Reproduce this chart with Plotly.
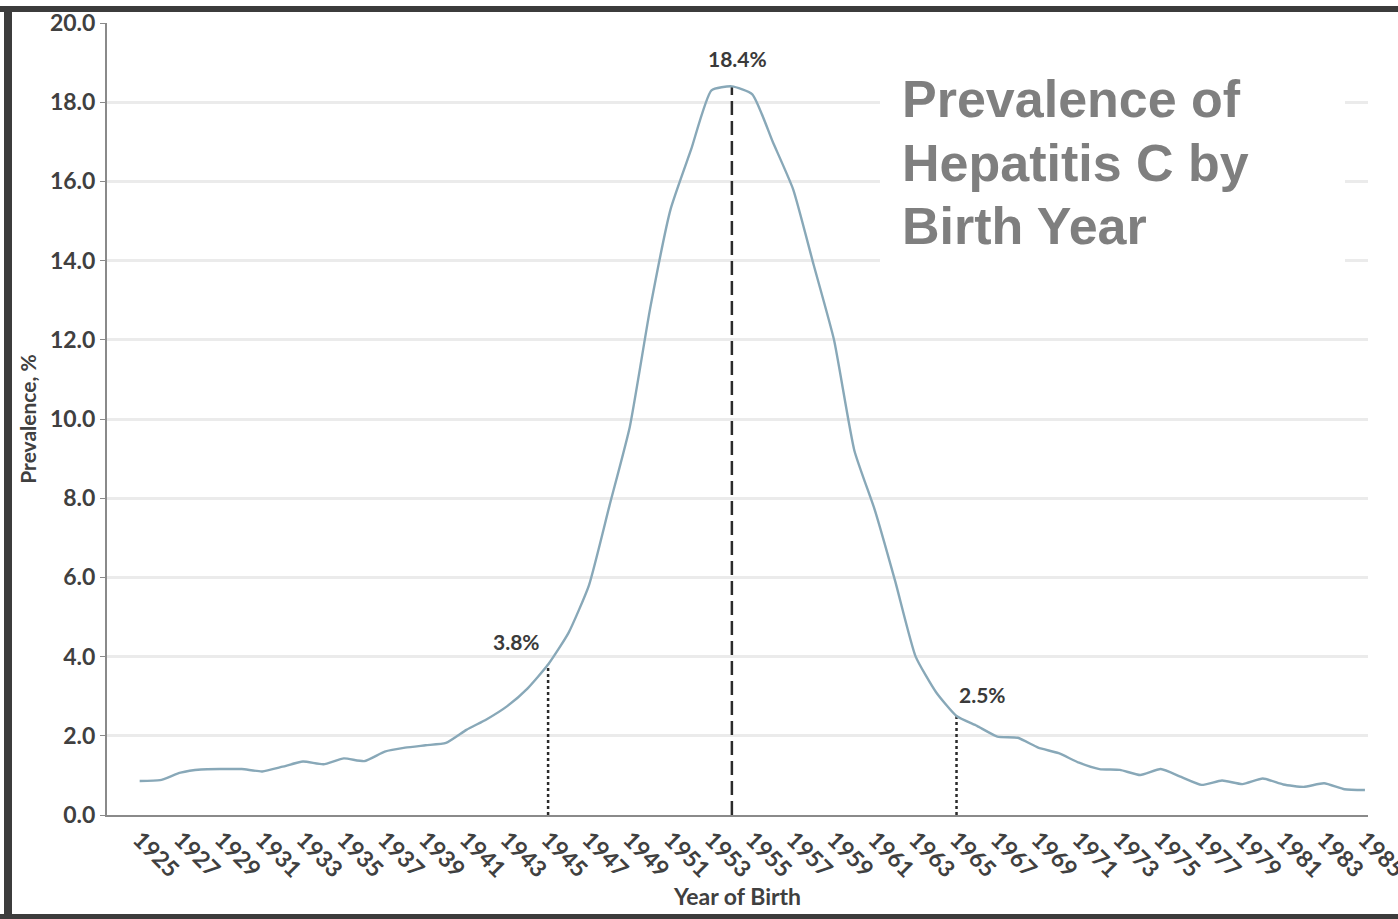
import plotly.graph_objects as go

years = list(range(1925, 1986))
prevalence = [
    0.86, 0.88, 1.07, 1.15, 1.16, 1.16, 1.10, 1.22, 1.35, 1.28,
    1.43, 1.36, 1.60, 1.70, 1.76, 1.82, 2.15, 2.42, 2.75, 3.20,
    3.80, 4.60, 5.80, 7.80, 9.80, 12.80, 15.30, 16.80, 18.30, 18.40,
    18.20, 17.00, 15.80, 13.90, 12.00, 9.20, 7.70, 5.90, 4.00, 3.10,
    2.50, 2.25, 1.98, 1.95, 1.70, 1.56, 1.32, 1.16, 1.14, 1.01,
    1.16, 0.96, 0.76, 0.87, 0.78, 0.92, 0.77, 0.71, 0.80, 0.65,
    0.63,
]
tick_years = list(range(1925, 1986, 2))
y_ticks = [0, 2, 4, 6, 8, 10, 12, 14, 16, 18, 20]
marker_years = [1945, 1954, 1965]
marker_values = [3.8, 18.4, 2.5]
marker_labels = ["3.8%", "18.4%", "2.5%"]
marker_dash = ["dot", "dash", "dot"]
title_lines = ["Prevalence of", "Hepatitis C by", "Birth Year"]

# plot area in pixels
L, R_, T, B = 107, 1368, 23, 815
W, H = 1398, 919
def px_x(px):
    return (px - L) / (R_ - L)
def px_y(py):
    return (B - py) / (B - T)

fig = go.Figure()

for yr, val, dsh in zip(marker_years, marker_values, marker_dash):
    fig.add_trace(go.Scatter(
        x=[yr, yr], y=[0, val], mode="lines",
        line=dict(color="#2b2b2b", width=2.5, dash="dot" if dsh == "dot" else "14px,6px"),
        hoverinfo="skip", showlegend=False,
    ))

fig.add_trace(go.Scatter(
    x=years, y=prevalence, mode="lines",
    line=dict(color="#88a8b8", width=2.4, shape="spline", smoothing=0.5),
    showlegend=False,
))

label_font = dict(family="Lato, Open Sans", size=21, color="#3a3a3a", weight="bold")
offsets = {1945: (-32, 23), 1954: (6, 28), 1965: (26, 22)}
for yr, val, lab in zip(marker_years, marker_values, marker_labels):
    ox, oy = offsets[yr]
    fig.add_annotation(x=yr, y=val, text=lab, showarrow=False,
                       xshift=ox, yshift=oy, font=label_font)

# white title box
fig.add_shape(type="rect", xref="paper", yref="paper",
              x0=px_x(880), x1=px_x(1345), y0=px_y(268), y1=px_y(66),
              fillcolor="white", line=dict(width=0), layer="above")
for line_txt, cy in zip(title_lines, [99, 163, 226]):
    fig.add_annotation(xref="paper", yref="paper", x=px_x(900), y=px_y(cy),
                       xanchor="left", yanchor="middle", align="left",
                       text="<b>" + line_txt + "</b>", showarrow=False,
                       font=dict(family="Liberation Sans, Arial", size=52, color="#7f7f7f"))

# image frame
frame_col = "#3c3c3c"
fig.add_shape(type="rect", xref="paper", yref="paper",
              x0=px_x(0), x1=px_x(W), y0=px_y(12), y1=px_y(6),
              fillcolor=frame_col, line=dict(width=0), layer="above")
fig.add_shape(type="rect", xref="paper", yref="paper",
              x0=px_x(4), x1=px_x(12), y0=px_y(919), y1=px_y(6),
              fillcolor=frame_col, line=dict(width=0), layer="above")
fig.add_shape(type="rect", xref="paper", yref="paper",
              x0=px_x(0), x1=px_x(W), y0=px_y(919), y1=px_y(914),
              fillcolor=frame_col, line=dict(width=0), layer="above")

tick_font = dict(family="Lato, Open Sans", size=23, color="#404040", weight="bold")
fig.update_xaxes(
    range=[1923.4, 1985.15], tickmode="array", tickvals=tick_years,
    ticktext=[str(y) for y in tick_years], tickangle=45, tickfont=tick_font,
    ticklabeloverflow="allow", automargin=False,
    showgrid=False, zeroline=False, showline=True, linecolor="#8a8a8a", linewidth=2,
    ticks="", title=dict(text="Year of Birth", font=dict(family="Lato, Open Sans", size=23, color="#404040", weight="bold"), standoff=2),
)
fig.update_yaxes(
    range=[0, 20], tickmode="array", tickvals=y_ticks,
    ticktext=[f"{v:.1f}" for v in y_ticks], tickfont=tick_font, automargin=False,
    showgrid=True, gridcolor="#ebebeb", gridwidth=3, zeroline=False,
    showline=True, linecolor="#8a8a8a", linewidth=2, ticks="outside", ticklen=5,
    tickcolor="#8a8a8a",
    title=dict(text="Prevalence, %", font=dict(family="Lato, Open Sans", size=21, color="#404040", weight="bold"), standoff=8),
)
fig.update_layout(
    width=W, height=H, margin=dict(l=L, r=W - R_, t=T, b=H - B),
    paper_bgcolor="white", plot_bgcolor="white",
)
fig.write_html("out.html", config={"displayModeBar": False},
               post_script="document.body.style.margin='0';")
